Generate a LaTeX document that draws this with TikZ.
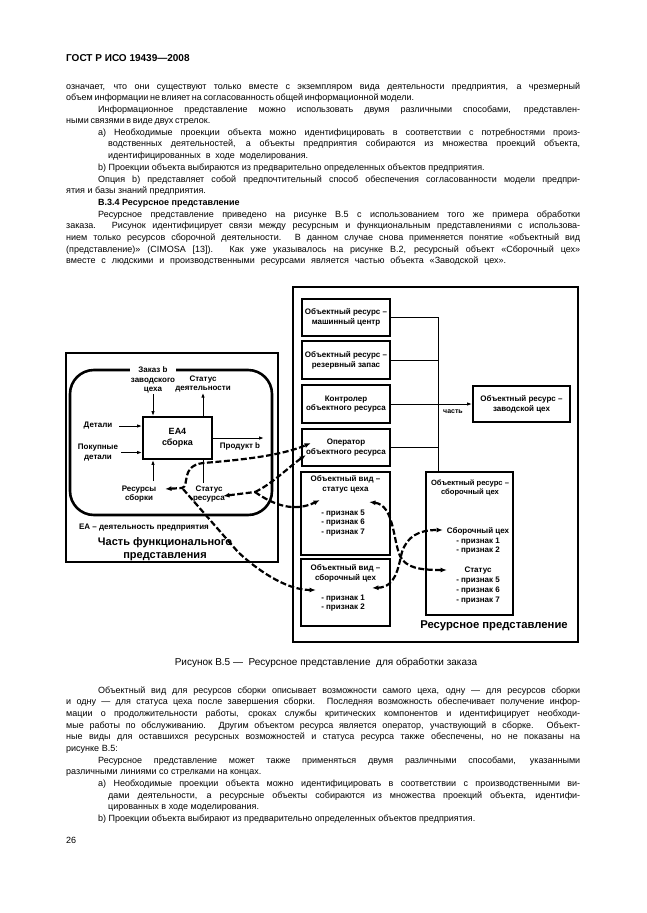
\documentclass[tikz,border=0pt]{standalone}
\usepackage{fontspec}
\setmainfont{Liberation Sans}
\usetikzlibrary{arrows.meta}
\newcommand\jline[4]{\node[body] (#1) at (#2,#3) {\makebox[\dimexpr580pt-#2pt\relax][s]{#4}};}
\newcommand\sline[5]{\node[body] (#1) at (#2,#3) {\makebox[\dimexpr#4pt-#2pt\relax][s]{#5}};}
\newcommand\lline[4]{\node[body] (#1) at (#2,#3) {#4};}
\begin{document}
\begin{tikzpicture}[x=1pt,y=-1pt,
  >={Latex[length=6.5pt,width=5pt]},
  body/.style={anchor=base west,inner sep=0pt,font=\fontsize{9}{11}\selectfont},
  lab/.style={inner sep=0pt,align=center,font=\fontsize{8}{9.8}\selectfont\bfseries},
  rbox/.style={draw,line width=1.8pt,minimum width=88pt,inner sep=0pt,align=center,font=\fontsize{8}{9.8}\selectfont\bfseries},
  frm/.style={draw,line width=2.6pt,inner sep=0pt},
  conn/.style={line width=1pt},
  arr/.style={conn,-{Latex[length=5pt,width=3.5pt]}},
  dconn/.style={line width=2.2pt,dash pattern=on 6pt off 2.5pt}
]
\useasboundingbox (0,0) rectangle (646,913);
\fill[white] (0,0) rectangle (646,913);

% ---------- header and upper text ----------
\node[anchor=base west,inner sep=0pt,font=\fontsize{10}{12}\selectfont\bfseries] (hdr) at (66,61) {ГОСТ Р ИСО 19439—2008};
\jline{l1}{66}{89}{означает, что они существуют только вместе с экземпляром вида деятельности предприятия, а чрезмерный}
\sline{l2}{66}{100}{398}{объем информации не влияет на согласованность общей информационной модели.}
\jline{l3}{98}{112}{Информационное представление можно использовать двумя различными способами, представлен-}
\sline{l4}{66}{123}{204}{ными связями в виде двух стрелок.}
\jline{l5}{98}{135}{а) Необходимые проекции объекта можно идентифицировать в соответствии с потребностями произ-}
\jline{l6}{108}{146}{водственных деятельностей, а объекты предприятия собираются из множества проекций объекта,}
\sline{l7}{108}{158}{308}{идентифицированных в ходе моделирования.}
\lline{l8}{98}{170}{b) Проекции объекта выбираются из предварительно определенных объектов предприятия.}
\jline{l9}{98}{182}{Опция b) представляет собой предпочтительный способ обеспечения согласованности модели предпри-}
\lline{l10}{66}{193}{ятия и базы знаний предприятия.}
\lline{l11}{98}{205}{\bfseries В.3.4 Ресурсное представление}
\jline{l12}{98}{217}{Ресурсное представление приведено на рисунке В.5 с использованием того же примера обработки}
\jline{l13}{66}{228}{заказа. Рисунок идентифицирует связи между ресурсным и функциональным представлениями с использова-}
\jline{l14}{66}{240}{нием только ресурсов сборочной деятельности. В данном случае снова применяется понятие «объектный вид}
\jline{l15}{66}{252}{(представление)» (CIMOSA [13]). Как уже указывалось на рисунке В.2, ресурсный объект «Сборочный цех»}
\sline{l16}{66}{263}{506}{вместе с людскими и производственными ресурсами является частью объекта «Заводской цех».}

% ---------- functional part ----------
\node[frm,minimum width=212pt,minimum height=209pt] (fbox) at (172,457.5) {};
\node[frm,rounded corners=24pt,minimum width=202pt,minimum height=145pt] (rr) at (171,442.5) {};
\node[draw,line width=1.8pt,minimum width=69pt,minimum height=42pt,inner sep=0pt,align=center,font=\fontsize{9}{10.5}\selectfont\bfseries] (ea4) at (177.5,438) {EA4\\сборка};

\node[lab,fill=white,inner sep=0.6pt] (zak) at (153,380) {Заказ b\\заводского\\цеха};
\draw[arr] (zak.south) -- (zak.south |- ea4.north);
\node[lab] (sd) at (203,384) {Статус\\деятельности};
\draw[arr] (sd.south |- ea4.north) -- (sd.south);
\node[lab] (det) at (98,426) {Детали};
\draw[arr] ([xshift=7pt]det.east) -- (det.east -| ea4.west);
\node[lab] (pok) at (98,452.5) {Покупные\\детали};
\draw[arr] ([xshift=3pt]pok.east) -- (pok.east -| ea4.west);
\coordinate (prd) at (264,438);
\draw[arr] (ea4.east) -- (prd);
\node[lab] (prod) at (240,446.5) {Продукт b};
\node[lab] (res) at (139,494) {Ресурсы\\сборки};
\coordinate (rs) at (153,481);
\draw[arr] (rs) -- (rs |- ea4.south);
\node[lab] (sr) at (209,494) {Статус\\ресурса};
\coordinate (srt) at (203,483);
\draw[conn] (ea4.south -| srt) -- (srt);

\node[inner sep=0pt,font=\fontsize{8}{9}\selectfont\bfseries] (eal) at (144,528) {EA – деятельность предприятия};
\node[inner sep=0pt,align=center,font=\fontsize{11}{12.5}\selectfont\bfseries] (fpl) at (165,549) {Часть функционального\\представления};

% ---------- resource part ----------
\node[frm,minimum width=285pt,minimum height=355pt] (frame) at (435.5,464.5) {};
\node[rbox,minimum height=37pt] (b1) at (346,317.5) {Объектный ресурс –\\машинный центр};
\node[rbox,minimum height=38pt] (b2) at (346,360) {Объектный ресурс –\\резервный запас};
\node[rbox,minimum height=38pt] (b3) at (346,404) {Контролер\\объектного ресурса};
\node[rbox,minimum height=37pt] (b4) at (346,447.5) {Оператор\\объектного ресурса};
\node[rbox,minimum width=89pt,minimum height=83pt] (b5) at (345.5,513.5) {};
\node[lab] (b5t) at (345.5,484.5) {Объектный вид –\\статус цеха};
\node[lab] (b5f) at (343,523) {- признак 5\\- признак 6\\- признак 7};
\node[rbox,minimum width=89pt,minimum height=67pt] (b6) at (345.5,592.5) {};
\node[lab] (b6t) at (345.5,573) {Объектный вид –\\сборочный цех};
\node[lab] (b6f) at (343,603) {- признак 1\\- признак 2};

\node[rbox,minimum width=97pt,minimum height=36pt] (zav) at (521.5,404) {Объектный ресурс –\\заводской цех};
\node[rbox,minimum width=87pt,minimum height=143pt] (big) at (469.5,543.5) {};
\node[lab,font=\fontsize{7.6}{9.8}\selectfont\bfseries] (bigt) at (470,488) {Объектный ресурс –\\сборочный цех};
\node[lab] (sc) at (478,541) {Сборочный цех\\- признак 1\\- признак 2};
\node[lab] (st) at (478,585.5) {Статус\\- признак 5\\- признак 6\\- признак 7};
\node[inner sep=0pt,font=\fontsize{11.3}{12}\selectfont\bfseries] (rpl) at (494,626) {Ресурсное представление};

\coordinate (trk) at (438,0);
\draw[conn] (b1.east) -| (trk |- big.north);
\draw[conn] (b2.east) -- (b2.east -| trk);
\draw[conn] (b4.east) -- (b4.east -| trk);
\draw[arr] (b3.east) -- (zav.west);
\node[lab,font=\fontsize{7}{8}\selectfont\bfseries] (part) at (453,412) {часть};

% ---------- dashed links ----------
\coordinate (pA0) at (165,489);
\coordinate (pA1) at (311,443);
\draw[dconn,<->] (pA0) -- (182,488) .. controls (190,486) and (180,466) .. (203,463) .. controls (240,460) and (280,456) .. (pA1);
\coordinate (pB0) at (183,489);
\coordinate (pB1) at (316,590);
\draw[dconn,->] (pB0) -- (238,552) .. controls (255,568) and (285,590) .. (pB1);
\coordinate (pC0) at (223,496);
\coordinate (pCj) at (255,492);
\coordinate (pC1) at (306,455);
\coordinate (pC2) at (320,500);
\draw[dconn,<-] (pC0) -- (pCj);
\draw[dconn,->] (pCj) .. controls (272,484) and (290,466) .. (pC1);
\draw[dconn,->] (pCj) .. controls (275,506) and (295,512) .. (pC2);
\coordinate (pD0) at (369,502);
\coordinate (pD1) at (447,570);
\draw[dconn,<->] (pD0) .. controls (394,505) and (393,540) .. (400,556) .. controls (406,568) and (420,570) .. (pD1);
\coordinate (pE0) at (372,588);
\coordinate (pE1) at (443,530);
\draw[dconn,<->] (pE0) .. controls (396,587) and (398,568) .. (402,552) .. controls (407,537) and (418,530) .. (pE1);

% ---------- caption and lower text ----------
\node[anchor=base,inner sep=0pt,font=\fontsize{10}{12}\selectfont] (cap) at (326,665) {Рисунок В.5 —\ \ Ресурсное представление\ \ для обработки заказа};
\jline{l17}{98}{693}{Объектный вид для ресурсов сборки описывает возможности самого цеха, одну — для ресурсов сборки}
\jline{l18}{66}{704}{и одну — для статуса цеха после завершения сборки. Последняя возможность обеспечивает получение инфор-}
\jline{l19}{66}{716}{мации о продолжительности работы, сроках службы критических компонентов и идентифицирует необходи-}
\jline{l20}{66}{728}{мые работы по обслуживанию. Другим объектом ресурса является оператор, участвующий в сборке. Объект-}
\jline{l21}{66}{739}{ные виды для оставшихся ресурсных возможностей и статуса ресурса также обеспечены, но не показаны на}
\lline{l22}{66}{751}{рисунке В.5:}
\jline{l23}{98}{763}{Ресурсное представление может также применяться двумя различными способами, указанными}
\lline{l24}{66}{774}{различными линиями со стрелками на концах.}
\jline{l25}{98}{786}{а) Необходимые проекции объекта можно идентифицировать в соответствии с производственными ви-}
\jline{l26}{108}{798}{дами деятельности, а ресурсные объекты собираются из множества проекций объекта, идентифи-}
\lline{l27}{108}{809}{цированных в ходе моделирования.}
\lline{l28}{98}{821}{b) Проекции объекта выбирают из предварительно определенных объектов предприятия.}
\node[body] (pg) at (66,843) {26};
\end{tikzpicture}
\end{document}
